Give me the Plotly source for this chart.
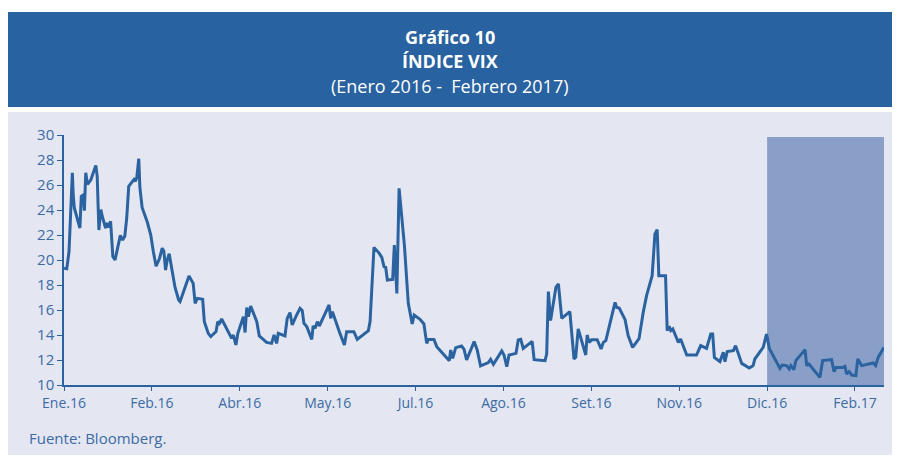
import plotly.graph_objects as go

# VIX, trading-day index (0 = first trading day of Jan 2016) and value
dias = [0, 1.0, 1.8, 3.0, 3.3, 3.7, 5.7, 6.2, 6.9, 7.3, 7.8, 8.4, 9.6, 11.4, 11.9, 12.5, 13.2, 13.7,
        14.9, 15.5, 16.1, 16.7, 17.5, 18.3, 19.2, 20.2, 21.0, 21.8, 22.5, 23.2, 25.1, 25.6, 26.1, 26.8,
        27.2, 28.0, 29.9, 31.1, 32.0, 33.0, 34.2, 35.2, 35.8, 36.4, 37.0, 37.7, 39.8, 41.1, 41.6, 44.8,
        46.3, 47.0, 47.8, 49.7, 50.3, 51.7, 52.6, 54.5, 55.1, 55.7, 56.5, 60.1, 60.7, 61.6, 62.3, 64.3,
        64.9, 65.5, 66.1, 66.9, 69.1, 70.0, 71.4, 72.6, 74.4, 75.3, 76.2, 76.8, 79.2, 80.0, 81.0, 81.8,
        83.1, 84.6, 85.4, 86.0, 87.0, 88.8, 89.3, 90.0, 90.8, 91.5, 92.9, 95.0, 95.6, 96.2, 98.9, 100.5,
        101.3, 103.9, 105.1, 107.9, 109.1, 109.7, 111.1, 113.0, 113.9, 114.7, 115.3, 115.9, 117.8, 118.4,
        118.9, 119.3, 120.1, 122.0, 123.4, 124.8, 125.5, 127.6, 129.0, 130.0, 130.6, 132.6, 133.6, 135.9,
        138.1, 138.6, 139.3, 140.4, 142.5, 143.4, 144.3, 147.0, 148.1, 149.3, 152.1, 152.9, 153.9, 156.9,
        157.7, 158.7, 159.5, 162.0, 162.8, 163.7, 164.6, 167.8, 168.5, 172.4, 173.0, 173.6, 174.4, 176.3,
        177.2, 178.4, 181.3, 182.8, 183.4, 184.3, 185.5, 187.0, 187.5, 188.2, 189.1, 191.1, 192.5, 193.3,
        194.2, 197.5, 198.1, 199.0, 201.1, 202.2, 203.8, 205.2, 206.1, 207.6, 208.8, 210.8, 211.8, 212.6,
        213.2, 215.6, 216.2, 216.9, 217.5, 218.2, 220.2, 221.0, 223.2, 226.7, 228.2, 230.3, 231.8, 232.5,
        233.1, 235.1, 236.3, 236.9, 237.7, 239.9, 240.7, 242.9, 245.6, 247.0, 247.6, 250.6, 251.8, 252.8,
        256.6, 257.4, 259.0, 259.9, 260.5, 261.6, 262.3, 265.6, 266.2, 267.0, 270.9, 271.9, 274.3, 275.1,
        276.0, 276.7, 279.1, 279.9, 280.5, 281.4, 282.3, 283.8, 284.5, 285.9, 290.0, 290.9, 291.8, 293.9]
vix = [19.34, 19.3, 20.68, 26.98, 25.2, 24.17, 22.56, 25.1, 25.2, 23.95, 26.98, 26.05, 26.4, 27.57, 26.7,
       22.4, 24.03, 23.5, 22.56, 22.96, 22.6, 23.1, 20.28, 20.0, 20.95, 21.97, 21.6, 21.9, 23.4, 25.9,
       26.45, 26.3, 26.6, 28.1, 25.8, 24.2, 23.0, 22.0, 20.7, 19.5, 20.1, 20.95, 20.7, 19.2, 20.0, 20.5,
       17.8, 16.8, 16.67, 18.72, 18.13, 16.53, 16.93, 16.85, 15.07, 14.13, 13.87, 14.27, 15.07, 14.93,
       15.28, 13.73, 14.0, 13.2, 14.13, 15.47, 14.2, 16.2, 15.47, 16.32, 15.07, 13.92, 13.65, 13.41,
       13.33, 14.0, 13.33, 14.13, 13.92, 15.33, 15.79, 14.8, 15.47, 16.13, 15.95, 14.93, 14.67, 13.65,
       14.72, 14.53, 15.07, 14.72, 15.39, 16.4, 15.33, 15.87, 14.13, 13.2, 14.27, 14.27, 13.65, 14.13,
       14.35, 15.07, 21.01, 20.53, 20.21, 19.47, 19.41, 18.4, 18.45, 21.2, 19.47, 17.33, 25.73, 21.2,
       16.53, 14.88, 15.6, 15.25, 14.88, 13.33, 13.65, 13.65, 13.07, 12.45, 11.95, 12.8, 12.13, 12.99,
       13.12, 12.85, 12.0, 13.47, 12.8, 11.52, 11.79, 12.05, 11.65, 12.72, 12.4, 11.47, 12.4, 12.53,
       13.6, 13.65, 12.93, 13.49, 12.03, 11.95, 12.48, 17.47, 15.15, 17.81, 18.08, 15.33, 15.87, 12.08,
       12.21, 14.48, 13.55, 12.4, 14.0, 13.41, 13.63, 13.63, 12.88, 13.41, 13.55, 16.61, 16.21, 16.16,
       15.23, 13.95, 13.01, 13.41, 13.7, 15.81, 17.15, 18.75, 22.08, 22.43, 18.75, 18.75, 14.35, 14.69,
       14.35, 14.48, 13.41, 13.68, 12.4, 12.4, 13.15, 12.93, 14.08, 14.08, 12.21, 11.87, 12.61, 11.87,
       12.67, 12.75, 13.15, 11.73, 11.36, 11.55, 12.08, 13.01, 14.08, 12.93, 11.33, 11.6, 11.55, 11.28,
       11.55, 11.23, 11.95, 12.83, 11.55, 11.68, 10.61, 11.95, 12.03, 12.03, 11.07, 11.41, 11.41, 11.49,
       10.88, 11.07, 10.8, 10.75, 12.08, 11.55, 11.76, 11.55, 12.21, 13.01]

tick_dias = [0, 31.5, 63, 94.5, 126, 157.5, 189, 220.5, 252, 283.5]
tick_text = ["Ene.16", "Feb.16", "Abr.16", "May.16", "Jul.16", "Ago.16", "Set.16", "Nov.16", "Dic.16", "Feb.17"]
sombra_desde = 252  # Dic.16

AZUL = "#2a63a0"
PANEL = "#e4e7f1"
TXT = "#3a6ba6"
FONT = "Open Sans"

fig = go.Figure()
fig.add_trace(go.Scatter(x=dias, y=vix, mode="lines",
                         line=dict(color=AZUL, width=3), hoverinfo="skip"))

# header band and grey panel (paper coords)
fig.add_shape(type="rect", xref="paper", yref="paper", x0=-0.07, x1=1.02, y0=1.112, y1=1.492,
              fillcolor="#2862a0", line_width=0, layer="below")
fig.add_shape(type="rect", xref="paper", yref="paper", x0=-0.07, x1=1.02, y0=-0.28, y1=1.092,
              fillcolor=PANEL, line_width=0, layer="below")
# shaded period
fig.add_shape(type="rect", xref="x", yref="y", x0=sombra_desde, x1=max(dias), y0=10, y1=29.85,
              fillcolor="#8a9fc8", line_width=0, layer="below")

# titles, one annotation per line
for texto, y, tam in [("<b>Gráfico 10</b>", 1.392, 18),
                      ("<b>ÍNDICE VIX</b>", 1.294, 18),
                      ("(Enero 2016 -  Febrero 2017)", 1.196, 18)]:
    fig.add_annotation(text=texto, xref="paper", yref="paper", x=0.4707, y=y, showarrow=False,
                       font=dict(family=FONT, size=tam, color="white"), yanchor="middle")

fig.add_annotation(text="Fuente: Bloomberg.", xref="paper", yref="paper", x=-0.045, y=-0.212,
                   xanchor="left", showarrow=False, font=dict(family=FONT, size=15, color=TXT),
                   yanchor="middle")

fig.update_layout(
    width=892, height=450,
    margin=dict(l=56, r=16, t=127, b=73),
    paper_bgcolor="white", plot_bgcolor=PANEL,
    showlegend=False,
    font=dict(family=FONT, size=13, color=TXT),
)
fig.update_xaxes(range=[0, max(dias)], tickvals=tick_dias, ticktext=tick_text,
                 showgrid=False, zeroline=False, showline=True, linecolor=AZUL, linewidth=1.5,
                 ticks="outside", ticklen=4, tickcolor=AZUL, tickfont=dict(size=14, color=TXT))
fig.update_yaxes(range=[10, 30], dtick=2, showgrid=False, zeroline=False, showline=True,
                 linecolor=AZUL, linewidth=1.5, ticks="outside", ticklen=5, tickcolor=AZUL,
                 tickfont=dict(size=15, color=TXT))

fig.write_html("out.html")
